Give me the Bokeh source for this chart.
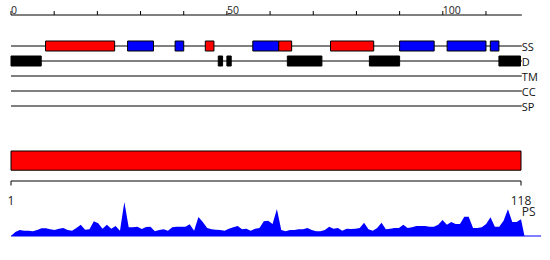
from bokeh.plotting import figure
from bokeh.models import Range1d
from bokeh.core.properties import value
from bokeh.embed import file_html
from bokeh.resources import INLINE

# ---------------- data ----------------
seq_len = 118
track_end = 118.3
top_ticks = list(range(0, 120, 10))
top_tick_labels = ["0", "50", "100"]
top_tick_label_pos = [0, 50, 100]

tracks = ["SS", "D", "TM", "CC", "SP"]
track_y = [45.5, 60.5, 75.5, 90.5, 105.5]

ss_start = [8, 27, 38, 45, 56, 62, 74, 90, 101, 111]
ss_end = [24, 33, 40, 47, 62, 65, 84, 98, 110, 113]
ss_type = ["H", "E", "E", "H", "E", "H", "H", "E", "E", "E"]
ss_colors = {"H": "#ff0000", "E": "#0000ff"}

d_start = [0, 48, 50, 64, 83, 113]
d_end = [7, 49, 51, 72, 90, 118]

ps_values = [0, 4, 6, 5.3, 5.3, 4.7, 6, 7.7, 7.7, 6.7,
             6, 7.3, 8, 6, 5.3, 8, 11.3, 6.3, 6.7, 14.7,
             12.7, 7.3, 11.3, 7.3, 10, 5.3, 34, 8.7, 8.7, 9.3,
             7, 9, 9.3, 4.7, 6, 6.7, 5.3, 8.7, 9.3, 9.3,
             9.3, 11.7, 5.3, 19, 14, 8, 6.7, 6.3, 6, 5.3,
             7.3, 8.7, 10, 6.7, 7.3, 5.3, 7.3, 8, 14.7, 15.3,
             12, 27, 6, 4.7, 6, 6, 6.7, 6.7, 8, 6,
             4.7, 4.7, 6, 9.3, 7.3, 8, 5.3, 7.3, 7, 7.3,
             8, 13.3, 6.7, 5.3, 8, 13.3, 6.7, 7.3, 8, 8,
             11.3, 8, 8.7, 10, 10, 10, 9.3, 9.3, 11.3, 16,
             11.3, 14, 12, 12, 19.3, 19.3, 8, 8, 8.7, 12,
             18.7, 9.3, 9.3, 15.3, 26.7, 14, 14, 16.7]
assert len(ps_values) == seq_len
residues = list(range(1, seq_len + 1))
ps_tail = 118.8
ps_baseline_end = 122.6

W, H = 550, 260
FONT = value("Open Sans")

p = figure(width=W, height=H, output_backend="svg", toolbar_location=None,
           x_range=Range1d(-2.4317, 124.942), y_range=Range1d(H, 0),
           x_axis_location=None, y_axis_location=None,
           min_border=0, min_border_left=0, min_border_right=0,
           min_border_top=0, min_border_bottom=0)
p.outline_line_color = None
p.grid.visible = False
p.background_fill_color = "white"
p.border_fill_color = "white"
p.extra_x_ranges = {"seq": Range1d(-1.409, 124.767)}
p.extra_y_ranges = {"ps": Range1d(-24.5, 235.5)}

# ---- top ruler ----
p.segment(x0=[0], y0=[14.5], x1=[track_end], y1=[14.5], line_color="black", line_width=1)
p.segment(x0=top_ticks, y0=[10.5] * len(top_ticks), x1=top_ticks, y1=[14.5] * len(top_ticks),
          line_color="black", line_width=1)
p.text(x=top_tick_label_pos, y=[9.5] * 3, text=top_tick_labels, text_font=FONT,
       text_font_size=value("10.5px"), text_align="left", text_baseline="alphabetic",
       text_color="#222222")

# ---- tracks ----
p.segment(x0=[0] * len(tracks), y0=track_y, x1=[track_end] * len(tracks), y1=track_y,
          line_color="black", line_width=1)
p.text(x=[track_end] * len(tracks), y=track_y, text=tracks, text_font=FONT,
       text_font_size=value("11px"), text_align="left", text_baseline="middle",
       text_color="#111111")

ss_y = track_y[0]
p.quad(left=ss_start, right=ss_end, top=[ss_y - 5] * len(ss_start), bottom=[ss_y + 5] * len(ss_start),
       fill_color=[ss_colors[t] for t in ss_type], line_color="black", line_width=1)

d_y = track_y[1]
p.quad(left=d_start, right=d_end, top=[d_y - 5] * len(d_start), bottom=[d_y + 5] * len(d_start),
       fill_color="black", line_color="black", line_width=1)

# ---- bottom bar & ruler ----
p.quad(left=[1], right=[seq_len], top=[150.5], bottom=[169.7], fill_color="#ff0000",
       line_color="black", line_width=1, x_range_name="seq")
p.segment(x0=[1], y0=[180.5], x1=[seq_len], y1=[180.5], line_color="black", line_width=1,
          x_range_name="seq")
p.segment(x0=[1, seq_len], y0=[180.5, 180.5], x1=[1, seq_len], y1=[185, 185],
          line_color="black", line_width=1, x_range_name="seq")
p.text(x=[1, seq_len], y=[200, 200], text=["1", str(seq_len)], text_font=FONT,
       text_font_size=value("12px"), text_align="center", text_baseline="alphabetic",
       text_color="#222222", x_range_name="seq")
p.text(x=[track_end], y=[210.5], text=["PS"], text_font=FONT,
       text_font_size=value("12px"), text_align="left", text_baseline="middle",
       text_color="#222222")

# ---- PS profile ----
p.varea(x=residues + [ps_tail], y1=[0] * (seq_len + 1), y2=ps_values + [0], fill_color="#0000ff",
        x_range_name="seq", y_range_name="ps")
p.segment(x0=[1], y0=[0], x1=[ps_baseline_end], y1=[0], line_color="#0000ff", line_width=1,
          x_range_name="seq", y_range_name="ps")

open("out.html", "w").write(file_html(p, INLINE))
